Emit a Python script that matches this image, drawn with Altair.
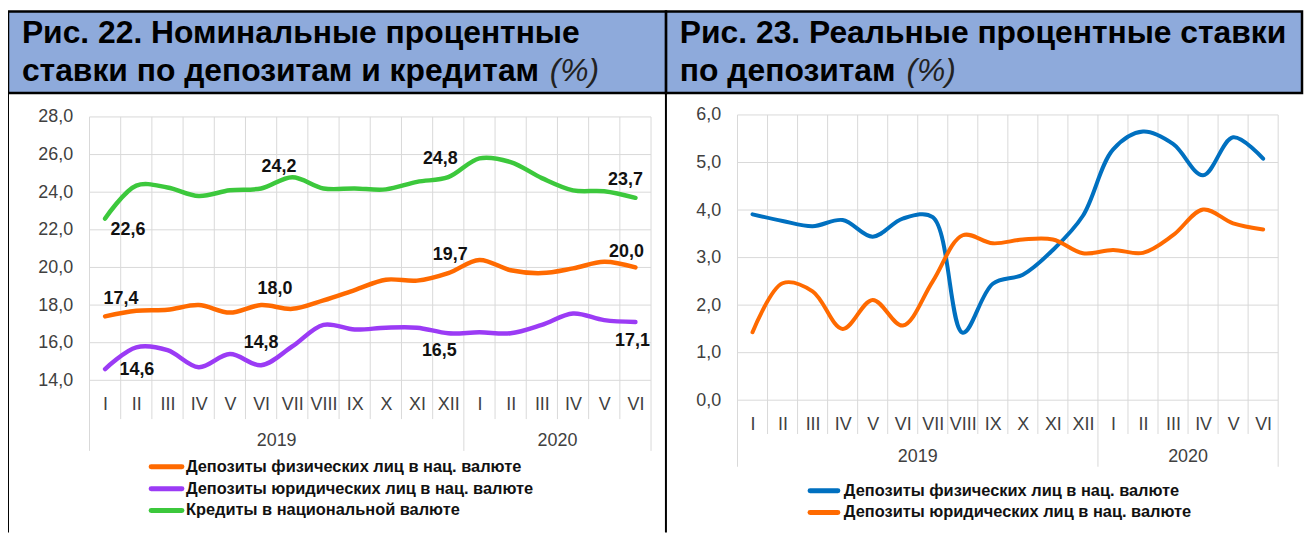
import altair as alt
import pandas as pd

# ---------------- data ----------------
MONTHS = ["I", "II", "III", "IV", "V", "VI", "VII", "VIII", "IX", "X", "XI", "XII",
          "I", "II", "III", "IV", "V", "VI"]
YEARS = [2019] * 12 + [2020] * 6

NOM_PHYS = [17.4, 17.7, 17.75, 18.0, 17.6, 18.0, 17.8, 18.25, 18.8, 19.35, 19.3, 19.7,
            20.4, 19.85, 19.7, 19.95, 20.3, 20.0]
NOM_LEGAL = [14.6, 15.75, 15.6, 14.7, 15.4, 14.8, 15.8, 16.95, 16.7, 16.8, 16.8, 16.5,
             16.55, 16.5, 16.95, 17.55, 17.2, 17.1]
NOM_CREDIT = [22.6, 24.35, 24.25, 23.8, 24.1, 24.2, 24.8, 24.2, 24.2, 24.15, 24.55, 24.8,
              25.8, 25.6, 24.75, 24.1, 24.05, 23.7]

REAL_PHYS = [3.91, 3.77, 3.66, 3.79, 3.44, 3.82, 3.85, 1.42, 2.45, 2.64, 3.16, 3.88,
             5.27, 5.65, 5.39, 4.73, 5.53, 5.08]
REAL_LEGAL = [1.43, 2.46, 2.29, 1.5, 2.11, 1.57, 2.5, 3.47, 3.3, 3.38, 3.38, 3.09,
              3.16, 3.1, 3.47, 4.01, 3.72, 3.59]

SERIES_LEFT = ["Депозиты физических лиц в нац. валюте",
               "Депозиты юридических лиц в нац. валюте",
               "Кредиты в национальной валюте"]
SERIES_RIGHT = ["Депозиты физических лиц в нац. валюте",
                "Депозиты юридических лиц в нац. валюте"]

LEFT_TICKS = [14, 16, 18, 20, 22, 24, 26, 28]
RIGHT_TICKS = [0, 1, 2, 3, 4, 5, 6]

TITLE_LEFT = ["Рис. 22. Номинальные процентные", "ставки по депозитам и кредитам"]
TITLE_RIGHT = ["Рис. 23. Реальные процентные ставки", "по депозитам"]
TITLE_UNIT = "(%)"

LABELED_IDX = [0, 5, 11, 17]

# ---------------- styles / layout ----------------
COLORS_LEFT = ["#FF6A00", "#9B3BF5", "#3CC83C"]
COLORS_RIGHT = ["#0070C0", "#FF6A00"]
FONT = "Liberation Sans"
HEADER_FILL = "#8EAADB"
GRID = "#D9D9D9"
TICK_COLOR = "#404040"
TITLE_SIZE = 32

VIEW_W, VIEW_H = 1304, 526

# label offsets (dx, dy) per series for labeled indices
LEFT_LABEL_OFFSETS = {
    0: [(16, -17), (14, -16), (2, -18), (-9, -16)],     # physical
    1: [(32, 1), (0, -22), (-9, 18), (-3, 19)],         # legal
    2: [(23, 12), (18, -22), (-8, -18), (-10, -18)],    # credit
}

LEFT_LAYOUT = dict(
    xr=[82, 647], yr=[373, 108],
    head=(0, 662, 2, 84), frame_left=0, frame_right=662, frame_bottom=526,
    title=(14, 34, 72), unit_x=545,
    legend=(144, 175, 179, 460, 22),
    rule_ext=(39, 71), year_y=434, stroke_w=4.5,
)
RIGHT_LAYOUT = dict(
    xr=[734, 1278], yr=[393, 106],
    head=(662, 1302, 2, 84), frame_left=None, frame_right=None, frame_bottom=526,
    title=(676, 34, 72), unit_x=904,
    legend=(807, 835, 841, 484, 22),
    rule_ext=(34, 67), year_y=450, stroke_w=4,
)


def build_long(series_names, arrays):
    rows = []
    for s, arr in zip(series_names, arrays):
        for i, v in enumerate(arr):
            rows.append({"idx": i, "series": s, "value": v})
    return pd.DataFrame(rows)


def boundaries():
    rows = []
    n = len(MONTHS)
    for i in range(n + 1):
        is_year = i == 0 or i == n or YEARS[i] != YEARS[i - 1]
        rows.append({"b": i - 0.5, "year": is_year})
    return pd.DataFrame(rows)


def year_centers():
    df = pd.DataFrame({"idx": range(len(YEARS)), "year": YEARS})
    g = df.groupby("year")["idx"].mean().reset_index()
    g["label"] = g["year"].astype(str)
    return g


month_expr = "[" + ",".join(f"'{m}'" for m in MONTHS) + "][datum.value]"
comma_expr = "replace(format(datum.value, '.1f'), '.', ',')"


def panel(df, series, colors, ticks, L, label_specs, title_lines):
    dom = [-0.5, len(MONTHS) - 0.5]
    xs = alt.Scale(domain=dom, range=L["xr"], nice=False, zero=False)
    ys = alt.Scale(domain=[ticks[0], ticks[-1]], range=L["yr"], nice=False, zero=False)
    cs = alt.Scale(domain=series, range=colors)
    x_bottom = L["yr"][0]
    xax = alt.Axis(values=list(range(len(MONTHS))), labelExpr=month_expr, grid=False,
                   ticks=False, domain=False, title=None, labelOverlap=False,
                   labelFlush=False, labelBound=False, labelPadding=15,
                   labelFont=FONT, labelFontSize=18, labelColor=TICK_COLOR,
                   orient="bottom", offset=-(VIEW_H - x_bottom))
    yax = alt.Axis(values=ticks, labelExpr=comma_expr, grid=False, ticks=False,
                   domain=False, title=None, labelPadding=17, labelFont=FONT,
                   labelFontSize=18, labelColor=TICK_COLOR, labelOverlap=False,
                   orient="left", offset=-L["xr"][0])
    one = pd.DataFrame({"a": [0]})
    hx0, hx1, hy0, hy1 = L["head"]

    layers = []
    # header band
    layers.append(alt.Chart(one).mark_rect(fill=HEADER_FILL, stroke="black", strokeWidth=2.5).encode(
        x=alt.value(hx0), x2=alt.value(hx1), y=alt.value(hy0), y2=alt.value(hy1)))
    # frame lines
    for fx in (L["frame_left"], L["frame_right"]):
        if fx is not None:
            layers.append(alt.Chart(one).mark_rule(color="black", strokeWidth=2).encode(
                x=alt.value(fx), y=alt.value(hy0), y2=alt.value(L["frame_bottom"])))
    # titles
    tx, ty1, ty2 = L["title"]
    for txt, yy in [(title_lines[0], ty1), (title_lines[1], ty2)]:
        layers.append(alt.Chart(one).mark_text(font=FONT, fontSize=TITLE_SIZE, fontWeight="bold",
                                               align="left", baseline="alphabetic",
                                               color="black").encode(
            x=alt.value(tx), y=alt.value(yy), text=alt.value(txt)))
    layers.append(alt.Chart(one).mark_text(font=FONT, fontSize=TITLE_SIZE, fontStyle="italic",
                                           align="left", baseline="alphabetic",
                                           color="#222222").encode(
        x=alt.value(L["unit_x"]), y=alt.value(ty2), text=alt.value(TITLE_UNIT)))

    # horizontal gridlines from tick values
    tdf = pd.DataFrame({"t": ticks})
    layers.append(alt.Chart(tdf).mark_rule(color=GRID, strokeWidth=1).encode(
        y=alt.Y("t:Q", scale=ys, axis=yax),
        x=alt.value(L["xr"][0]), x2=alt.value(L["xr"][1])))

    # vertical category boundaries
    bdf = boundaries()
    month_ext, year_ext = L["rule_ext"]
    top = L["yr"][1]
    layers.append(alt.Chart(bdf[~bdf["year"]]).mark_rule(color=GRID, strokeWidth=1).encode(
        x=alt.X("b:Q", scale=xs, axis=xax), y=alt.value(top), y2=alt.value(x_bottom + month_ext)))
    layers.append(alt.Chart(bdf[bdf["year"]]).mark_rule(color=GRID, strokeWidth=1).encode(
        x=alt.X("b:Q", scale=xs, axis=xax), y=alt.value(top), y2=alt.value(x_bottom + year_ext)))

    # lines
    layers.append(alt.Chart(df).mark_line(interpolate="catmull-rom", strokeWidth=L["stroke_w"],
                                          strokeCap="round").encode(
        x=alt.X("idx:Q", scale=xs, axis=xax),
        y=alt.Y("value:Q", scale=ys, axis=yax),
        color=alt.Color("series:N", scale=cs, legend=None),
        detail="series:N"))

    # data labels
    for si, specs in label_specs.items():
        sname = series[si]
        sub = df[df["series"] == sname].reset_index(drop=True)
        for k, (dx, dy) in zip(LABELED_IDX, specs):
            row = sub[sub["idx"] == k].copy()
            row["txt"] = row["value"].map(lambda v: f"{v:.1f}".replace(".", ","))
            layers.append(alt.Chart(row).mark_text(font=FONT, fontSize=18, fontWeight="bold",
                                                   color="#111111", dx=dx, dy=dy).encode(
                x=alt.X("idx:Q", scale=xs, axis=xax),
                y=alt.Y("value:Q", scale=ys, axis=yax),
                text="txt:N"))

    # year labels
    ydf = year_centers()
    layers.append(alt.Chart(ydf).mark_text(font=FONT, fontSize=18, color=TICK_COLOR,
                                           baseline="middle").encode(
        x=alt.X("idx:Q", scale=xs, axis=xax), y=alt.value(L["year_y"]), text="label:N"))

    # legend (manual)
    lx0, lx1, ltx, ly0, lstep = L["legend"]
    for r, (s, c) in enumerate(zip(series, colors)):
        ldf = pd.DataFrame({"series": [s]})
        yy = ly0 + r * lstep
        layers.append(alt.Chart(ldf).mark_rule(strokeWidth=5, strokeCap="round", color=c).encode(
            x=alt.value(lx0), x2=alt.value(lx1), y=alt.value(yy)))
        layers.append(alt.Chart(ldf).mark_text(font=FONT, fontSize=16.5, fontWeight="bold",
                                               align="left", baseline="middle",
                                               color="#111111").encode(
            x=alt.value(ltx), y=alt.value(yy), text="series:N"))

    return alt.layer(*layers)


left_df = build_long(SERIES_LEFT, [NOM_PHYS, NOM_LEGAL, NOM_CREDIT])
right_df = build_long(SERIES_RIGHT, [REAL_PHYS, REAL_LEGAL])

left = panel(left_df, SERIES_LEFT, COLORS_LEFT, LEFT_TICKS, LEFT_LAYOUT,
             LEFT_LABEL_OFFSETS, TITLE_LEFT)
right = panel(right_df, SERIES_RIGHT, COLORS_RIGHT, RIGHT_TICKS, RIGHT_LAYOUT, {}, TITLE_RIGHT)

chart = alt.layer(right, left).resolve_scale(
    x="independent", y="independent", color="independent"
).resolve_axis(
    x="independent", y="independent"
).properties(
    width=VIEW_W, height=VIEW_H,
    autosize=alt.AutoSizeParams(type="none"),
    padding=0,
    background="white",
).configure_view(stroke=None)

chart.save("out.html", embed_options={"renderer": "svg", "actions": False})
